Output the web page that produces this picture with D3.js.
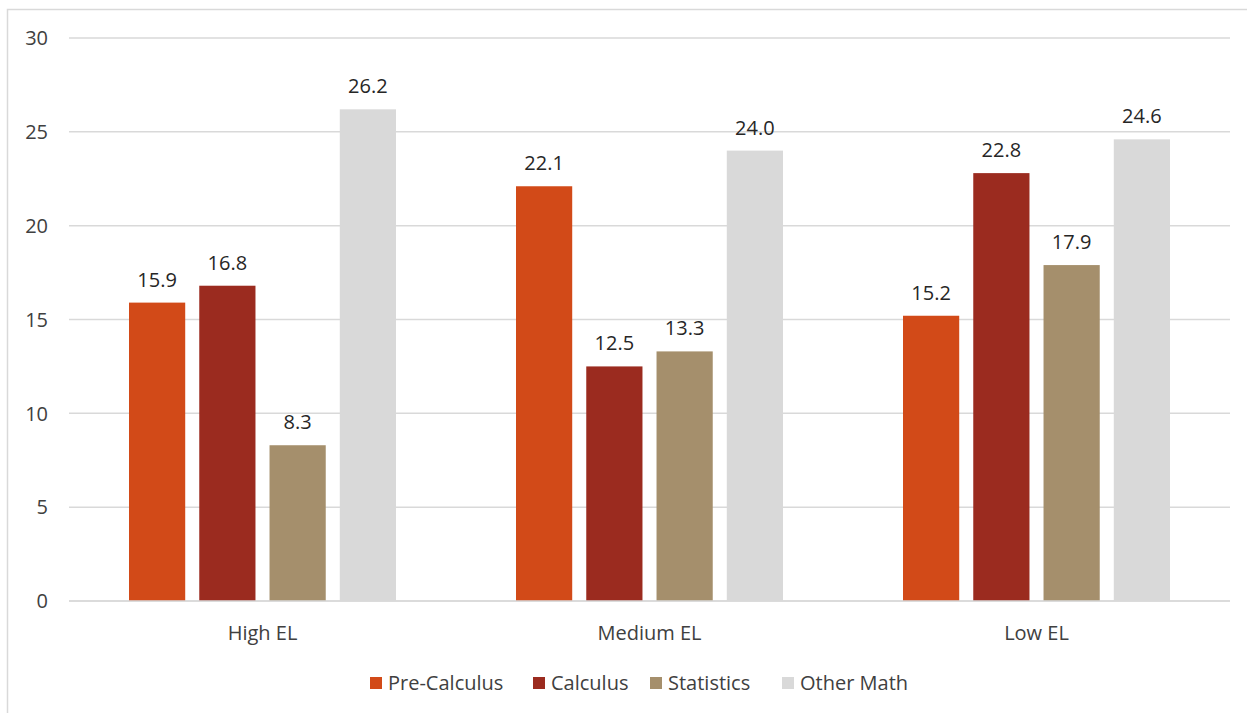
<!DOCTYPE html>
<html><head><meta charset="utf-8">
<script src="https://cdnjs.cloudflare.com/ajax/libs/d3/7.8.5/d3.min.js"></script>
<style>body{margin:0;background:#fff;} text{font-family:"Open Sans","Noto Sans",sans-serif;}</style>
</head><body>
<script>
const categories = ["High EL", "Medium EL", "Low EL"];
const seriesNames = ["Pre-Calculus", "Calculus", "Statistics", "Other Math"];
const preCalculus = [15.9, 22.1, 15.2];
const calculus = [16.8, 12.5, 22.8];
const statistics = [8.3, 13.3, 17.9];
const otherMath = [26.2, 24.0, 24.6];
const yTicks = [0, 5, 10, 15, 20, 25, 30];
const colors = ["#D24A18", "#9B2B1F", "#A58F6C", "#D9D9D9"];
const series = [preCalculus, calculus, statistics, otherMath];

(function () {
const W = 1247, H = 713;
const svg = d3.select("body").append("svg").attr("width", W).attr("height", H);
svg.append("rect").attr("x", 7.5).attr("y", 9.5).attr("width", W).attr("height", H)
  .attr("fill", "#fff").attr("stroke", "#d9d9d9").attr("stroke-width", 1.5);

const pLeft = 69, pRight = 1230, pTop = 38, pBottom = 601;
const x = d3.scaleBand().domain(categories).range([pLeft, pRight]);
const y = d3.scaleLinear().domain([0, 30]).range([pBottom, pTop]);
const bw = x.bandwidth();
const inner = d3.scaleBand().domain(d3.range(4)).range([60, bw - 60]).paddingInner(0.2);

svg.append("g").selectAll("line").data(yTicks).join("line")
  .attr("x1", pLeft).attr("x2", pRight).attr("y1", d => y(d)).attr("y2", d => y(d))
  .attr("stroke", "#d9d9d9").attr("stroke-width", 1.5);

svg.append("g").selectAll("text").data(yTicks).join("text")
  .attr("x", 48).attr("y", d => y(d)).attr("dy", "0.36em").attr("text-anchor", "end")
  .attr("font-size", 20).attr("fill", "#404040").text(d => d);

categories.forEach((c, ci) => {
  series.forEach((s, si) => {
    const bx = x(c) + inner(si);
    svg.append("rect").attr("x", bx).attr("y", y(s[ci]))
      .attr("width", inner.bandwidth()).attr("height", y(0) - y(s[ci]))
      .attr("fill", colors[si]);
    svg.append("text").attr("x", bx + inner.bandwidth() / 2).attr("y", y(s[ci]) - 16)
      .attr("text-anchor", "middle").attr("font-size", 20).attr("fill", "#262626")
      .text(s[ci].toFixed(1));
  });
  svg.append("text").attr("x", x(c) + bw / 2).attr("y", 640).attr("text-anchor", "middle")
    .attr("font-size", 20).attr("fill", "#404040").text(c);
});

svg.append("line").attr("x1", pLeft).attr("x2", pRight).attr("y1", y(0)).attr("y2", y(0))
  .attr("stroke", "#d9d9d9").attr("stroke-width", 1.5);

const legendX = [370, 533, 650, 782];
const lg = svg.append("g");
seriesNames.forEach((n, i) => {
  lg.append("rect").attr("x", legendX[i]).attr("y", 677).attr("width", 12).attr("height", 12).attr("fill", colors[i]);
  lg.append("text").attr("x", legendX[i] + 18).attr("y", 690)
    .attr("font-size", 20).attr("fill", "#404040").text(n);
});
})();
</script>
</body></html>
